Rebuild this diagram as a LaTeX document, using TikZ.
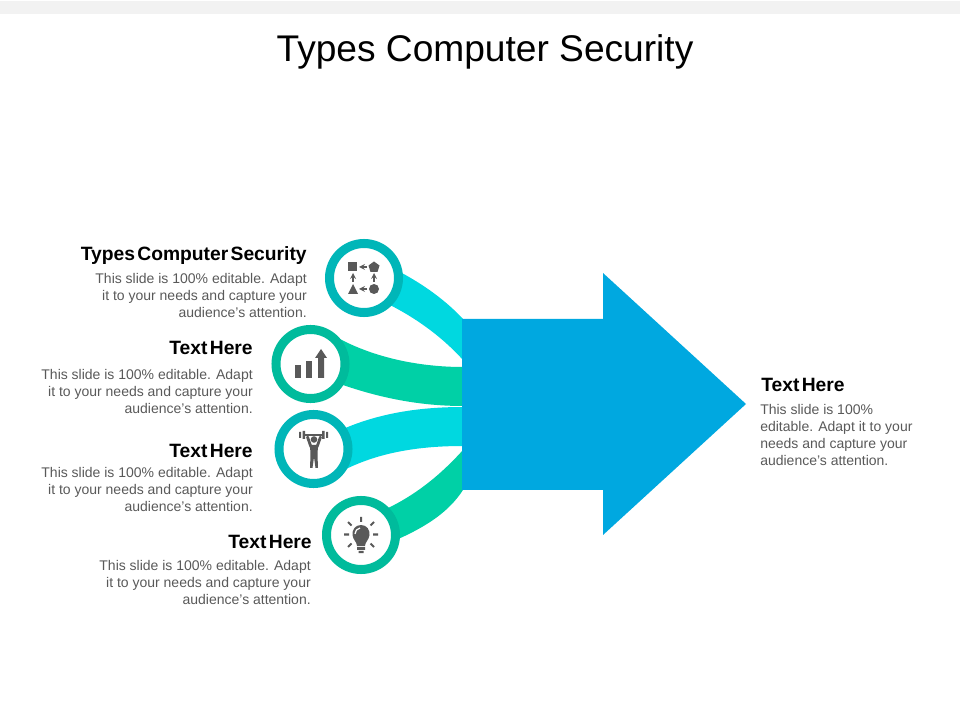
\documentclass[tikz,border=0pt]{standalone}
\usepackage{fontspec}
\setmainfont{Liberation Sans}
\definecolor{bluearrow}{HTML}{00A8E0}
\definecolor{cyanband}{HTML}{00D8E0}
\definecolor{greenband}{HTML}{00D0A6}
\definecolor{cyanring}{HTML}{00B6B8}
\definecolor{greenring}{HTML}{00BB9C}
\definecolor{icongray}{HTML}{595959}
\definecolor{bodygray}{HTML}{595959}
\definecolor{topband}{HTML}{F2F2F2}
\newcommand{\tightspace}{\spaceskip 1.65pt plus 0pt minus 0pt\relax}
\tikzset{
  ring/.style={circle, draw=#1, line width=0.225cm, fill=white, minimum size=1.725cm, inner sep=0pt},
  heading/.style={font=\fontsize{13.7}{15}\selectfont\bfseries\tightspace, inner sep=0pt, text=black},
  bodytext/.style={font=\fontsize{9.95}{11.9}\selectfont, inner sep=0pt, text=bodygray},
  iconline/.style={draw=icongray, line width=0.03cm}
}
\begin{document}
\begin{tikzpicture}[x=0.025cm, y=-0.025cm]
\useasboundingbox (0,0) rectangle (960,720);

\fill[topband] (0,1) rectangle (960,14);
\node[font=\fontsize{26.4}{30}\selectfont, inner sep=0pt, anchor=base] (title) at (485,62) {Types Computer Security};

% bands
\fill[cyanband] (400,272) .. controls (430,288) and (450,305) .. (463,319) -- (463,360) .. controls (445,340) and (420,320) .. (388,304) -- cycle;
\fill[greenband] (338,338) .. controls (375,358) and (420,367) .. (463,367) -- (463,406) .. controls (420,406) and (380,398) .. (340,384) -- cycle;
\fill[cyanband] (343,429) .. controls (380,413) and (420,407) .. (463,407) -- (463,446) .. controls (420,446) and (380,452) .. (344,470) -- cycle;
\fill[greenband] (386,509) .. controls (420,493) and (445,470) .. (463,450) -- (463,490) .. controls (450,510) and (430,525) .. (396,540) -- cycle;

% big arrow
\fill[bluearrow] (462,319) -- (603,319) -- (603,273) -- (746,404) -- (603,535) -- (603,490) -- (462,490) -- cycle;

% circles
\node[ring=cyanring] (sec1) at (364,278) {};
\node[ring=greenring] (sec2) at (310.5,364) {};
\node[ring=cyanring] (sec3) at (313.5,449) {};
\node[ring=greenring] (sec4) at (361,535) {};

% shapes icon
\fill[icongray] (348,262) rectangle (357,271);
\fill[icongray] (374,261.5) -- (379.5,265.5) -- (377.5,272) -- (370.5,272) -- (368.5,265.5) -- cycle;
\fill[icongray] (353,284) -- (358,294) -- (348,294) -- cycle;
\fill[icongray] (374,289) circle (5);
\draw[iconline, ->, >=stealth] (367,267) -- (359,267);
\draw[iconline, ->, >=stealth] (367,289) -- (359,289);
\draw[iconline, ->, >=stealth] (353,282) -- (353,273);
\draw[iconline, ->, >=stealth] (374,282) -- (374,273);

% bars icon
\fill[icongray] (295,365) rectangle (301,378);
\fill[icongray] (306,361) rectangle (312,378);
\fill[icongray] (318,358) rectangle (324,378) (315,358) -- (321,349) -- (327,358) -- cycle;

% lifter icon
\fill[icongray] (299,432) rectangle (301,438) (302.5,431) rectangle (305,439) (322,431) rectangle (324.5,439) (326,432) rectangle (328,438);
\fill[icongray] (305,434.5) rectangle (322,436);
\fill[icongray] (314,439.5) circle (3.3);
\draw[icongray, line width=0.07cm, line cap=round] (307.5,437) -- (311,447) (320.5,437) -- (317,447);
\fill[icongray] (310,445) -- (318,445) -- (317.5,455) -- (318,468) -- (315.5,468) -- (314,457) -- (312.5,468) -- (310,468) -- (310.5,455) -- cycle;

% bulb icon
\fill[icongray] (361,525) .. controls (355,525) and (352,530) .. (352.5,535) .. controls (353,540) and (357,542) .. (357,546) -- (365,546) .. controls (365,542) and (369,540) .. (369.5,535) .. controls (370,530) and (367,525) .. (361,525) -- cycle;
\draw[white, line width=0.03cm] (355,534) .. controls (355,531) and (357,528.5) .. (360,528);
\fill[icongray] (357,547) rectangle (365,550) (358.5,551) rectangle (363.5,553);
\draw[iconline, line width=0.05cm] (361,517) -- (361,522) (348,522) -- (351.5,525.5) (374,522) -- (370.5,525.5) (344,534.5) -- (349,534.5) (373,534.5) -- (378,534.5) (348,547) -- (351.5,543.5) (374,547) -- (370.5,543.5);

% texts
\node[heading, anchor=base east] (head1) at (307,261) {Types Computer Security};
\node[bodytext, anchor=north east, align=right] (body1) at (307,273.5) {This slide is 100\% editable. Adapt\\it to your needs and capture your\\audience's attention.};
\node[heading, anchor=base east] (head2) at (253,355) {Text Here};
\node[bodytext, anchor=north east, align=right] (body2) at (253,369.5) {This slide is 100\% editable. Adapt\\it to your needs and capture your\\audience's attention.};
\node[heading, anchor=base east] (head3) at (253,458) {Text Here};
\node[bodytext, anchor=north east, align=right] (body3) at (253,467.5) {This slide is 100\% editable. Adapt\\it to your needs and capture your\\audience's attention.};
\node[heading, anchor=base east] (head4) at (312,549) {Text Here};
\node[bodytext, anchor=north east, align=right] (body4) at (311,560.5) {This slide is 100\% editable. Adapt\\it to your needs and capture your\\audience's attention.};
\node[heading, anchor=base west] (head5) at (761,392) {Text Here};
\node[bodytext, anchor=north west, align=left] (body5) at (760,404.5) {This slide is 100\%\\editable. Adapt it to your\\needs and capture your\\audience's attention.};
\end{tikzpicture}
\end{document}
